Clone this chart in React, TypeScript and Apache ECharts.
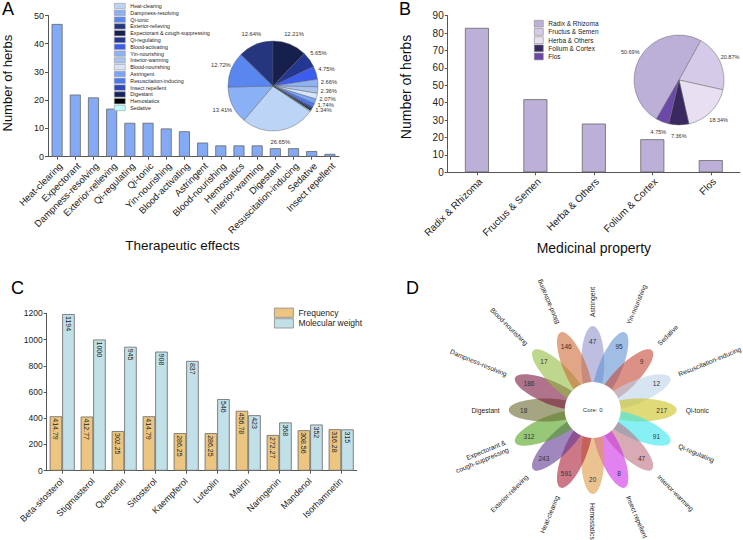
import React, { useEffect, useRef } from 'react';
import * as echarts from 'echarts';

const FONT = '"Liberation Sans", Arial, Helvetica, sans-serif';

// ---------- Panel A ----------
const effectCategories = ['Heat-clearing', 'Expectorant', 'Dampness-resolving', 'Exterior-relieving', 'Qi-regulating', 'Qi-tonic', 'Yin-nourishing', 'Blood-activating', 'Astringent', 'Blood-nourishing', 'Hemostatics', 'Interior-warming', 'Digestant', 'Resuscitation-inducing', 'Sedative', 'Insect repellent'];
const effectCounts = [47, 22, 21, 17, 12, 12, 10, 9, 5, 4, 4, 4, 3, 3, 2, 1];

const effectPieNames = ['Heat-clearing', 'Dampness-resolving', 'Qi-tonic', 'Exterior-relieving', 'Expectorant & cough-suppressing', 'Qi-regulating', 'Blood-activating', 'Yin-nourishing', 'Interior-warming', 'Blood-nourishing', 'Astringent', 'Resuscitation-inducing', 'Insect repellent', 'Digestant', 'Hemostatics', 'Sedative'];
const effectPieShares = [26.65, 13.41, 12.72, 12.64, 12.21, 5.65, 4.75, 2.66, 2.36, 2.07, 1.74, 1.34, 0.6, 0.5, 0.4, 0.3];
const effectPieColors = ['#bcd5f6', '#8ab0f5', '#5a86f0', '#26367e', '#171f4c', '#233790', '#3d5cf0', '#8eb2f4', '#a9c2ee', '#d8e4f8', '#7aa4f6', '#4f78f0', '#2c48b8', '#182460', '#000000', '#b8fcfc'];

// ---------- Panel B ----------
const partCategories = ['Radix & Rhizoma', 'Fructus & Semen', 'Herba & Others', 'Folium & Cortex', 'Flos'];
const partCounts = [83, 42, 28, 19, 7];
const partShares = [50.69, 20.87, 18.34, 7.36, 4.75];
const partColors = ['#bdb0d8', '#d5cbe8', '#e6e0f2', '#3a2860', '#6c48a8'];

// ---------- Panel C ----------
const compoundNames = ['Beta-sitosterol', 'Stigmasterol', 'Quercetin', 'Sitosterol', 'Kaempferol', 'Luteolin', 'Mairin', 'Naringenin', 'Mandenol', 'Isorhamnetin'];
const frequencyValues = [414.79, 412.77, 302.25, 414.79, 286.25, 286.25, 456.78, 272.27, 308.56, 316.28];
const molecularWeights = [1194, 1000, 945, 908, 837, 546, 423, 368, 352, 315];

// ---------- Panel D ----------
const petalNames = ['Astringent', 'Yin-nourishing', 'Sedative', 'Resuscitation-inducing', 'Qi-tonic', 'Qi-regulating', 'Interior-warming', 'Insect repellent', 'Hemostatics', 'Heat-clearing', 'Exterior-relieving', 'Expectorant &\ncough-suppressing', 'Digestant', 'Dampness-resolving', 'Blood-nourishing', 'Blood-activating'];
const petalCounts = [47, 95, 9, 12, 217, 91, 47, 8, 20, 591, 243, 312, 18, 186, 17, 146];
const petalColors = ['#9393cd', '#6193d2', '#c54837', '#bcd2e9', '#cdc11e', '#37e6ee', '#bc7182', '#cd2fe6', '#de9b48', '#ac1e37', '#613793', '#50a31e', '#69692f', '#7a163f', '#93bc3f', '#cd6937'];
const coreCount = 0;

// layout constants
const PIE_A = { cx: 273, cy: 86, r: 45 };
const PIE_B = { cx: 679, cy: 80, r: 45 };
const FLOWER = { cx: 592.7, cy: 410, petalDist: 47, rx: 37, ry: 11.5, numDist: 69, labelDist: 93, coreR: 28 };

const AXIS_COLOR = '#555';

const pieLabelLayout = (cx: number, cy: number, gap: number) => (params: any) => {
  const pts = params.labelLinePoints;
  if (!pts || !pts[0]) return {};
  const x0 = pts[0][0];
  const y0 = pts[0][1];
  const dx = x0 - cx;
  const dy = y0 - cy;
  const len = Math.hypot(dx, dy) || 1;
  return { x: x0 + (dx / len) * gap, y: y0 + (dy / len) * gap, align: 'center', verticalAlign: 'middle' };
};

const petalAngleDeg = (i: number) => {
  let d = 90 - i * (360 / petalNames.length);
  while (d <= -180) d += 360;
  while (d > 180) d -= 360;
  return d;
};

function valueAxis(gridIndex: number, max: number, interval: number, fontSize: number, name?: string, nameGap?: number, nameSize?: number, namePad?: number) {
  return {
    type: 'value',
    gridIndex,
    min: 0,
    max,
    interval,
    axisLine: { show: true, lineStyle: { color: AXIS_COLOR, width: 1 } },
    axisTick: { show: true, length: 3, lineStyle: { color: AXIS_COLOR } },
    splitLine: { show: false },
    axisLabel: { fontSize, color: '#222', margin: 4, fontFamily: FONT, formatter: (v: number) => String(v) },
    name: name || '',
    nameLocation: 'middle',
    nameGap: nameGap || 0,
    nameTextStyle: { fontSize: nameSize || 13, color: '#111', fontFamily: FONT, padding: [0, 0, 0, namePad || 0] },
  };
}

function categoryAxis(gridIndex: number, data: string[], fontSize: number, margin: number, vAlign: string, name?: string, nameGap?: number, nameSize?: number, nameRightPad?: number) {
  return {
    type: 'category',
    gridIndex,
    data,
    axisLine: { show: true, lineStyle: { color: AXIS_COLOR, width: 1 } },
    axisTick: { show: true, alignWithLabel: true, length: 3, lineStyle: { color: AXIS_COLOR } },
    axisLabel: { rotate: 45, interval: 0, fontSize, color: '#222', margin, verticalAlign: vAlign, fontFamily: FONT },
    name: name || '',
    nameLocation: 'middle',
    nameGap: nameGap || 0,
    nameTextStyle: { fontSize: nameSize || 13, color: '#111', fontFamily: FONT, padding: [0, nameRightPad || 0, 0, 0] },
  };
}

export default function App() {
  const ref = useRef<HTMLDivElement>(null);

  useEffect(() => {
    if (!ref.current) return;
    const chart = echarts.init(ref.current, undefined, { renderer: 'svg' });

    const option: any = {
      animation: false,
      textStyle: { fontFamily: FONT },
      title: [
        { text: 'A', left: 2, top: 0, padding: 0, textStyle: { fontSize: 18, fontWeight: 'normal', color: '#000', fontFamily: FONT } },
        { text: 'B', left: 399, top: 0, padding: 0, textStyle: { fontSize: 18, fontWeight: 'normal', color: '#000', fontFamily: FONT } },
        { text: 'C', left: 11, top: 279, padding: 0, textStyle: { fontSize: 18, fontWeight: 'normal', color: '#000', fontFamily: FONT } },
        { text: 'D', left: 406, top: 279, padding: 0, textStyle: { fontSize: 18, fontWeight: 'normal', color: '#000', fontFamily: FONT } },
      ],
      legend: [
        {
          data: effectPieNames,
          orient: 'vertical',
          left: 114,
          top: 3,
          padding: 0,
          itemWidth: 11,
          itemHeight: 5.4,
          itemGap: 0.8,
          icon: 'rect',
          selectedMode: false,
          itemStyle: { borderColor: '#9a9a9a', borderWidth: 0.6 },
          textStyle: { fontSize: 5.3, lineHeight: 5.6, color: '#222', fontFamily: FONT },
        },
        {
          data: partCategories,
          orient: 'vertical',
          left: 534,
          top: 20,
          padding: 0,
          itemWidth: 9,
          itemHeight: 6.8,
          itemGap: 0.8,
          icon: 'rect',
          selectedMode: false,
          itemStyle: { borderColor: '#8a8a8a', borderWidth: 0.6 },
          textStyle: { fontSize: 6.5, lineHeight: 6.8, color: '#222', fontFamily: FONT },
        },
        {
          data: ['Frequency', 'Molecular weight'],
          orient: 'vertical',
          left: 274,
          top: 307.7,
          padding: 0,
          itemWidth: 19,
          itemHeight: 9.3,
          itemGap: 0.5,
          icon: 'rect',
          selectedMode: false,
          itemStyle: { borderColor: '#888', borderWidth: 0.8 },
          textStyle: { fontSize: 8.5, color: '#222', fontFamily: FONT },
        },
      ],
      grid: [
        { left: 47, top: 15.5, width: 292, height: 141.2 },
        { left: 447.7, top: 15.7, width: 292.3, height: 156.6 },
        { left: 46.7, top: 313.3, width: 310, height: 157.4 },
      ],
      xAxis: [
        categoryAxis(0, effectCategories, 9.5, 4, 'top', 'Therapeutic effects', 78, 13.5, 22),
        categoryAxis(1, partCategories, 10, 4, 'top', 'Medicinal property', 63, 14, 0),
        categoryAxis(2, compoundNames, 9, 9, 'middle'),
      ],
      yAxis: [
        valueAxis(0, 50, 10, 9, 'Number of herbs', 34, 13, 6),
        valueAxis(1, 90, 10, 10, 'Number of herbs', 35, 14, 14),
        valueAxis(2, 1200, 200, 8.5),
      ],
      graphic: [
        { type: 'circle', z: 5, silent: true, shape: { cx: FLOWER.cx, cy: FLOWER.cy, r: FLOWER.coreR }, style: { fill: '#ffffff' } },
        { type: 'text', z: 6, silent: true, x: FLOWER.cx, y: FLOWER.cy, style: { text: 'Core: ' + coreCount, fontSize: 6, fill: '#333', align: 'center', verticalAlign: 'middle', fontFamily: FONT } },
      ],
      series: [
        {
          type: 'bar',
          name: 'Therapeutic effects',
          xAxisIndex: 0,
          yAxisIndex: 0,
          data: effectCounts,
          barWidth: 11,
          itemStyle: { color: '#85aaf5', borderColor: '#666', borderWidth: 0.8 },
          emphasis: { disabled: true },
        },
        {
          type: 'pie',
          name: 'Effects share',
          center: [PIE_A.cx, PIE_A.cy],
          radius: PIE_A.r,
          startAngle: 90 + (effectPieShares[0] + effectPieShares[1] + effectPieShares[2] + effectPieShares[3]) * 3.6,
          clockwise: true,
          avoidLabelOverlap: false,
          emphasis: { disabled: true },
          itemStyle: { borderColor: '#555', borderWidth: 0.4 },
          label: { show: true, position: 'outside', fontSize: 5.8, color: '#333', fontFamily: FONT, formatter: (p: any) => p.value.toFixed(2) + '%' },
          labelLine: { show: true, length: 4, length2: 0, lineStyle: { opacity: 0, width: 0 } },
          labelLayout: pieLabelLayout(PIE_A.cx, PIE_A.cy, 11),
          data: effectPieNames.map((n, i) => ({
            name: n,
            value: effectPieShares[i],
            itemStyle: { color: effectPieColors[i] },
            label: { show: effectPieShares[i] >= 1 },
            labelLine: { show: effectPieShares[i] >= 1 },
          })),
        },
        {
          type: 'bar',
          name: 'Medicinal property',
          xAxisIndex: 1,
          yAxisIndex: 1,
          data: partCounts,
          barWidth: 24,
          itemStyle: { color: '#bdb0d8', borderColor: '#666', borderWidth: 0.8 },
          emphasis: { disabled: true },
        },
        {
          type: 'pie',
          name: 'Part share',
          center: [PIE_B.cx, PIE_B.cy],
          radius: PIE_B.r,
          startAngle: 240,
          clockwise: true,
          avoidLabelOverlap: false,
          emphasis: { disabled: true },
          itemStyle: { borderColor: '#666', borderWidth: 0.5 },
          label: { show: true, position: 'outside', fontSize: 5.5, color: '#333', fontFamily: FONT, formatter: (p: any) => p.value.toFixed(2) + '%' },
          labelLine: { show: true, length: 4, length2: 0, lineStyle: { opacity: 0, width: 0 } },
          labelLayout: pieLabelLayout(PIE_B.cx, PIE_B.cy, 11),
          data: partCategories.map((n, i) => ({ name: n, value: partShares[i], itemStyle: { color: partColors[i] } })),
        },
        {
          type: 'bar',
          name: 'Frequency',
          xAxisIndex: 2,
          yAxisIndex: 2,
          data: frequencyValues,
          barWidth: 12.5,
          barGap: '0%',
          itemStyle: { color: '#ecc680', borderColor: '#666', borderWidth: 0.8 },
          label: { show: true, position: 'insideTop', rotate: -90, align: 'left', verticalAlign: 'middle', distance: 2, fontSize: 7, color: '#222', fontFamily: FONT },
          emphasis: { disabled: true },
        },
        {
          type: 'bar',
          name: 'Molecular weight',
          xAxisIndex: 2,
          yAxisIndex: 2,
          data: molecularWeights,
          barWidth: 12.5,
          barGap: '0%',
          itemStyle: { color: '#c2e0e8', borderColor: '#666', borderWidth: 0.8 },
          label: { show: true, position: 'insideTop', rotate: -90, align: 'left', verticalAlign: 'middle', distance: 2, fontSize: 7, color: '#222', fontFamily: FONT },
          emphasis: { disabled: true },
        },
        {
          type: 'custom',
          name: 'petals',
          coordinateSystem: 'none',
          silent: true,
          z: 2,
          data: petalCounts.map((v, i) => [i, v]),
          renderItem: (params: any, api: any) => {
            const i = api.value(0);
            const a = (petalAngleDeg(i) * Math.PI) / 180;
            return {
              type: 'ellipse',
              x: FLOWER.cx + FLOWER.petalDist * Math.cos(a),
              y: FLOWER.cy - FLOWER.petalDist * Math.sin(a),
              rotation: a,
              shape: { cx: 0, cy: 0, rx: FLOWER.rx, ry: FLOWER.ry },
              style: { fill: petalColors[i], opacity: 0.6 },
            };
          },
        },
        {
          type: 'custom',
          name: 'petal labels',
          coordinateSystem: 'none',
          silent: true,
          z: 10,
          data: petalCounts.map((v, i) => [i, v]),
          renderItem: (params: any, api: any) => {
            const i = api.value(0);
            const v = api.value(1);
            const deg = petalAngleDeg(i);
            const a = (deg * Math.PI) / 180;
            const flip = deg > 120 || deg < -95;
            const lx = FLOWER.cx + FLOWER.labelDist * Math.cos(a);
            const ly = FLOWER.cy - FLOWER.labelDist * Math.sin(a);
            return {
              type: 'group',
              children: [
                {
                  type: 'text',
                  x: FLOWER.cx + FLOWER.numDist * Math.cos(a),
                  y: FLOWER.cy - FLOWER.numDist * Math.sin(a),
                  style: { text: String(v), fontSize: 6.5, fill: '#333', align: 'center', verticalAlign: 'middle', fontFamily: FONT },
                },
                {
                  type: 'text',
                  x: lx,
                  y: ly,
                  rotation: flip ? a - Math.PI : a,
                  style: {
                    text: petalNames[i],
                    fontSize: 6.7,
                    lineHeight: 8,
                    fill: '#222',
                    align: flip ? 'right' : 'left',
                    verticalAlign: 'middle',
                    fontFamily: FONT,
                  },
                },
              ],
            };
          },
        },
      ],
    };

    chart.setOption(option);
    return () => chart.dispose();
  }, []);

  return <div ref={ref} style={{ position: 'absolute', left: 0, top: 0, width: 743, height: 540, background: '#fff' }} />;
}
